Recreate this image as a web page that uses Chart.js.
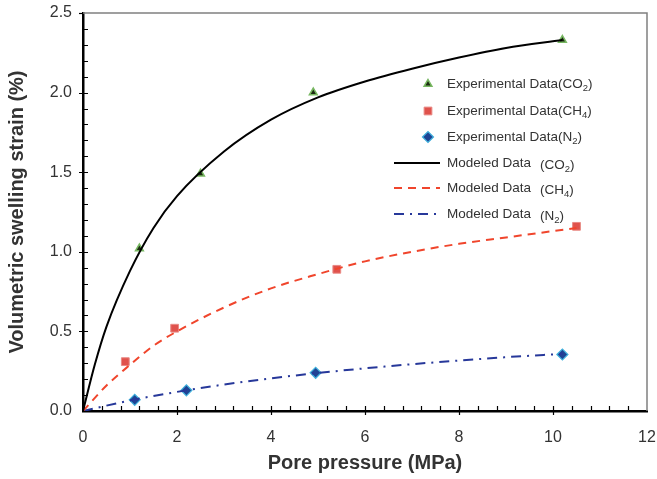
<!DOCTYPE html>
<html>
<head>
<meta charset="utf-8">
<script src="https://cdn.jsdelivr.net/npm/chart.js@4/dist/chart.umd.min.js"></script>
<style>
  body { margin: 0; background: #fff; }
  canvas { display: block; }
</style>
</head>
<body>
<canvas id="myChart" width="657" height="479"></canvas>
<script>
// measured swelling strain (%) vs pore pressure (MPa)
const co2P = [1.2, 2.5, 4.9, 10.2];
const co2E = [1.02, 1.49, 2.0, 2.33];
const ch4P = [0.9, 1.95, 5.4, 10.5];
const ch4E = [0.31, 0.52, 0.89, 1.16];
const n2P = [1.1, 2.2, 4.95, 10.2];
const n2E = [0.07, 0.13, 0.24, 0.355];

// modeled curves
const co2ModelP = [0, 0.25, 0.5, 1, 1.5, 2, 3, 4, 5, 6, 7, 8, 9, 10.2];
const co2ModelE = [0, 0.29, 0.53, 0.88, 1.15, 1.35, 1.63, 1.83, 1.97, 2.07, 2.15, 2.22, 2.28, 2.33];
const ch4ModelP = [0, 0.5, 1, 1.5, 2, 3, 4, 5, 6, 7, 8, 9, 10.5];
const ch4ModelE = [0, 0.16, 0.29, 0.41, 0.50, 0.65, 0.77, 0.86, 0.94, 1.00, 1.05, 1.09, 1.15];
const n2ModelP = [0, 1, 2, 3, 4, 5, 6, 7, 8, 9, 10.2];
const n2ModelE = [0, 0.066, 0.12, 0.166, 0.205, 0.239, 0.268, 0.294, 0.317, 0.338, 0.359];

const xTicks = [0, 2, 4, 6, 8, 10, 12];
const yTicks = [0, 0.5, 1.0, 1.5, 2.0, 2.5];

const pts = (xs, ys) => xs.map((x, i) => ({ x: x, y: ys[i] }));

const fontFam = '"Liberation Sans", Arial, sans-serif';
const textCol = '#333333';

// legend rows
const legendRows = [
  { kind: 'pt', ds: 3, gas: 'CO', sub: '2' },
  { kind: 'pt', ds: 4, gas: 'CH', sub: '4' },
  { kind: 'pt', ds: 5, gas: 'N', sub: '2' },
  { kind: 'ln', ds: 0, gas: 'CO', sub: '2' },
  { kind: 'ln', ds: 1, gas: 'CH', sub: '4' },
  { kind: 'ln', ds: 2, gas: 'N', sub: '2' }
];
const legendY = [84, 111, 137, 163, 188, 214];

const axesDecor = {
  id: 'axesDecor',
  afterDatasetsDraw(chart) {
    const c = chart.ctx;
    const a = chart.chartArea;
    const xs = chart.scales.x, ys = chart.scales.y;
    c.save();
    // grey frame top and right
    c.strokeStyle = '#808080';
    c.lineWidth = 1.5;
    c.beginPath();
    c.moveTo(a.left, a.top);
    c.lineTo(a.right, a.top);
    c.lineTo(a.right, a.bottom);
    c.stroke();
    // inner minor ticks, major ticks crossing the axis
    c.strokeStyle = '#000';
    c.lineWidth = 1.2;
    c.beginPath();
    for (let v = 0.4; v < 12; v += 0.4) {
      const px = Math.round(xs.getPixelForValue(v)) + 0.5;
      const major = Math.abs(v / 2 - Math.round(v / 2)) < 1e-6;
      c.moveTo(px, a.bottom + (major ? 4 : 0));
      c.lineTo(px, a.bottom - 5);
    }
    for (let v = 0.1; v < 2.5; v += 0.1) {
      const py = Math.round(ys.getPixelForValue(v)) + 0.5;
      const major = Math.abs(v / 0.5 - Math.round(v / 0.5)) < 1e-6;
      c.moveTo(a.left - (major ? 4 : 0), py);
      c.lineTo(a.left + 5, py);
    }
    c.stroke();
    c.beginPath();
    c.moveTo(a.left - 4, a.top + 0.5);
    c.lineTo(a.left, a.top + 0.5);
    c.stroke();

    // legend
    const symX = 428;
    const big = '13.5px ' + fontFam, small = '9.5px ' + fontFam;
    c.textBaseline = 'middle';
    legendRows.forEach((r, i) => {
      const ds = chart.data.datasets[r.ds];
      const y = legendY[i];
      if (r.kind === 'pt') {
        c.fillStyle = ds.backgroundColor;
        c.strokeStyle = ds.borderColor;
        c.lineWidth = ds.borderWidth;
        Chart.helpers.drawPoint(c, { pointStyle: ds.pointStyle, radius: ds.pointRadius, borderWidth: ds.borderWidth }, symX, y);
      } else {
        c.strokeStyle = ds.borderColor;
        c.lineWidth = ds.borderWidth;
        c.setLineDash(ds.borderDash || []);
        c.beginPath();
        c.moveTo(394, y);
        c.lineTo(440, y);
        c.stroke();
        c.setLineDash([]);
      }
      c.fillStyle = textCol;
      c.font = big;
      let tx = 447, yy = y;
      if (r.kind === 'pt') {
        c.fillText('Experimental Data(' + r.gas, tx, yy);
        tx += c.measureText('Experimental Data(' + r.gas).width;
      } else {
        c.fillText('Modeled Data', tx, yy);
        tx = 540;
        yy = y + 2;
        c.fillText('(' + r.gas, tx, yy);
        tx += c.measureText('(' + r.gas).width;
      }
      c.font = small;
      c.fillText(r.sub, tx, yy + 4);
      tx += c.measureText(r.sub).width;
      c.font = big;
      c.fillText(')', tx, yy);
    });
    c.restore();
  }
};

new Chart(document.getElementById('myChart'), {
  type: 'scatter',
  data: {
    datasets: [
      {
        label: 'Modeled Data (CO2)',
        data: pts(co2ModelP, co2ModelE),
        showLine: true, cubicInterpolationMode: 'monotone',
        borderColor: '#000000', borderWidth: 2, pointRadius: 0
      },
      {
        label: 'Modeled Data (CH4)',
        data: pts(ch4ModelP, ch4ModelE),
        showLine: true, cubicInterpolationMode: 'monotone',
        borderColor: '#f0452c', borderWidth: 2, borderDash: [8, 6], pointRadius: 0
      },
      {
        label: 'Modeled Data (N2)',
        data: pts(n2ModelP, n2ModelE),
        showLine: true, cubicInterpolationMode: 'monotone',
        borderColor: '#27389a', borderWidth: 2, borderDash: [10, 6, 2, 6], pointRadius: 0
      },
      {
        label: 'Experimental Data(CO2)',
        data: pts(co2P, co2E),
        pointStyle: 'triangle', pointRadius: 4.5,
        backgroundColor: '#1d2b12', borderColor: '#78b862', borderWidth: 1.5
      },
      {
        label: 'Experimental Data(CH4)',
        data: pts(ch4P, ch4E),
        pointStyle: 'rect', pointRadius: 5.5,
        backgroundColor: '#e0524c', borderColor: '#e98a85', borderWidth: 1
      },
      {
        label: 'Experimental Data(N2)',
        data: pts(n2P, n2E),
        pointStyle: 'rectRot', pointRadius: 5.5,
        backgroundColor: '#1f4494', borderColor: '#3fb0dc', borderWidth: 1.2
      }
    ]
  },
  options: {
    responsive: false,
    animation: false,
    layout: { padding: { top: 13, right: 10, left: 0, bottom: 0 } },
    plugins: {
      legend: { display: false },
      tooltip: { enabled: false }
    },
    scales: {
      x: {
        type: 'linear', min: 0, max: 12,
        afterBuildTicks: s => { s.ticks = xTicks.map(v => ({ value: v })); },
        afterFit: s => { s.height = 68; s.paddingLeft = 0; s.paddingRight = 0; },
        grid: { display: false, drawTicks: false },
        border: { display: true, color: '#000', width: 2.5 },
        ticks: { color: textCol, font: { family: fontFam, size: 16 }, padding: 17 },
        title: {
          display: true, text: 'Pore pressure (MPa)', color: textCol,
          font: { family: fontFam, size: 20, weight: 'bold' }, padding: { top: 0 }
        }
      },
      y: {
        type: 'linear', min: 0, max: 2.5,
        afterBuildTicks: s => { s.ticks = yTicks.map(v => ({ value: v })); },
        afterFit: s => { s.width = 83; s.paddingTop = 0; s.paddingBottom = 0; },
        grid: { display: false, drawTicks: false },
        border: { display: true, color: '#000', width: 2.5 },
        ticks: {
          color: textCol, font: { family: fontFam, size: 16 }, padding: 11,
          callback: v => v.toFixed(1)
        },
        title: {
          display: true, text: 'Volumetric swelling strain (%)', color: textCol,
          font: { family: fontFam, size: 20, weight: 'bold' }, padding: { top: 5, bottom: 0 }
        }
      }
    }
  },
  plugins: [axesDecor]
});
</script>
</body>
</html>
